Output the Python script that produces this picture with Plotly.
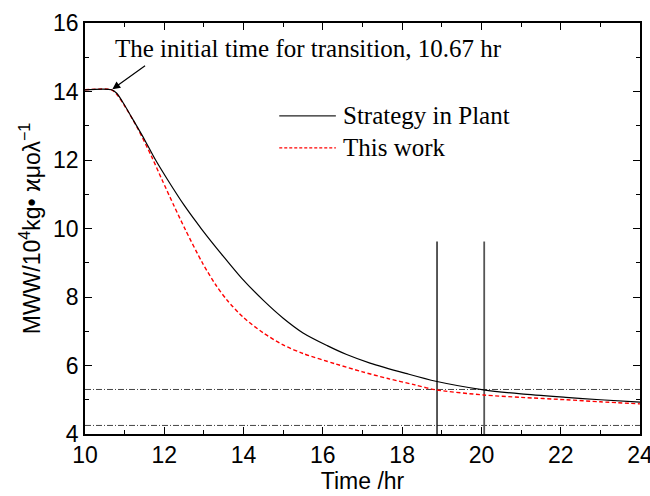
import plotly.graph_objects as go

# Molecular weight trajectories during the grade transition
time_plant = [10.0, 10.67, 10.8, 11.0, 11.2, 11.5, 11.77, 12.08, 12.5, 12.95, 13.48,
              13.95, 14.5, 15.0, 15.5, 16.11, 16.6, 17.19, 18.09, 18.85, 20.05,
              21.0, 22.13, 23.0, 24.0]
mww_plant = [14.05, 14.05, 13.95, 13.6, 13.2, 12.6, 12.02, 11.43, 10.68, 9.97, 9.2,
             8.55, 7.9, 7.38, 6.95, 6.58, 6.32, 6.07, 5.77, 5.54, 5.29,
             5.17, 5.07, 5.0, 4.93]

time_work = [10.0, 10.67, 10.8, 11.0, 11.34, 11.68, 11.94, 12.25, 12.53, 12.96,
             13.3, 13.59, 14.0, 14.5, 15.0, 15.5, 16.31, 17.0, 17.64, 18.3,
             18.85, 20.05, 21.0, 22.13, 23.0, 24.0]
mww_work = [14.05, 14.05, 13.92, 13.58, 12.9, 12.1, 11.43, 10.65, 9.97, 9.0,
            8.35, 7.9, 7.4, 6.95, 6.6, 6.35, 6.05, 5.815, 5.62, 5.44,
            5.29, 5.14, 5.07, 5.0, 4.94, 4.88]

# Reference levels and completion times
spec_levels = [5.3, 4.25]
finish_times = [18.88, 20.07]
finish_top = 9.62
start_time = 10.67
start_mww = 14.05

x_ticks = [10, 12, 14, 16, 18, 20, 22, 24]
y_ticks = [4, 6, 8, 10, 12, 14, 16]

SERIF = "Liberation Serif, Times New Roman, serif"
SANS = "Liberation Sans, Arial, sans-serif"

fig = go.Figure()

for lvl in spec_levels:
    fig.add_trace(go.Scatter(
        x=[10, 24], y=[lvl, lvl], mode="lines",
        line=dict(color="#444444", width=1, dash="6px,2px,1px,2px"),
        showlegend=False, hoverinfo="skip"))

fig.add_trace(go.Scatter(
    x=[finish_times[0], finish_times[0]], y=[4, finish_top], mode="lines",
    line=dict(color="#111111", width=1.4), showlegend=False, hoverinfo="skip"))
fig.add_trace(go.Scatter(
    x=[finish_times[1], finish_times[1]], y=[4, finish_top], mode="lines",
    line=dict(color="#555555", width=1.8), showlegend=False, hoverinfo="skip"))

fig.add_trace(go.Scatter(
    x=time_work, y=mww_work, mode="lines", name="This work",
    line=dict(color="#ff0000", width=1.4, dash="4px,2.5px", shape="spline", smoothing=0.8),
    showlegend=False))
fig.add_trace(go.Scatter(
    x=time_plant, y=mww_plant, mode="lines", name="Strategy in Plant",
    line=dict(color="black", width=1.2, shape="spline", smoothing=0.8),
    showlegend=False))

# Hand-placed legend in paper coordinates
legend_rows = [("Strategy in Plant", dict(color="#222222", width=1.4)),
               ("This work", dict(color="#ff0000", width=1.2, dash="3px,2px"))]
row_y = [0.774, 0.696]
for (label, style), yy in zip(legend_rows, row_y):
    fig.add_shape(type="line", xref="paper", yref="paper",
                  x0=0.35, x1=0.452, y0=yy, y1=yy, line=style)
    fig.add_annotation(xref="paper", yref="paper", x=0.461, y=yy, text=label,
                       showarrow=False, xanchor="left", yanchor="middle",
                       font=dict(family=SERIF, size=25, color="black"))

# Arrow pointing at the start of the transition
fig.add_annotation(
    x=start_time, y=start_mww, ax=35, ay=-25,
    text="", showarrow=True, arrowhead=2, arrowsize=1.3, arrowwidth=1.2,
    arrowcolor="black", standoff=1)
fig.add_annotation(
    xref="paper", yref="paper", x=0.05, y=0.938,
    text="The initial time for transition, 10.67 hr", showarrow=False,
    xanchor="left", yanchor="middle",
    font=dict(family=SERIF, size=25, color="black"))

axis_common = dict(
    showline=True, linecolor="black", linewidth=1.5, mirror="ticks",
    ticks="inside", ticklen=7, tickwidth=1.2, tickcolor="black",
    showgrid=False, zeroline=False, ticklabeloverflow="allow", automargin=False,
    tickfont=dict(family=SANS, size=23, color="black"),
    minor=dict(ticks="inside", ticklen=4, tickwidth=1, tickcolor="black", dtick=1),
)

fig.update_xaxes(range=[10, 24], tickvals=x_ticks, **axis_common,
                 title=dict(text="Time /hr", font=dict(family=SANS, size=23, color="black"),
                            standoff=4))
fig.update_yaxes(range=[4, 16], tickvals=y_ticks, **axis_common,
                 title=dict(text="MWW/10<sup>4</sup>kg• ϰμολ<sup>−1</sup>",
                            font=dict(family=SANS, size=23, color="black"),
                            standoff=6))

fig.update_layout(
    width=650, height=496,
    margin=dict(l=85, r=10, t=23, b=62),
    paper_bgcolor="white", plot_bgcolor="white",
    showlegend=False,
)

fig.write_html("out.html")
